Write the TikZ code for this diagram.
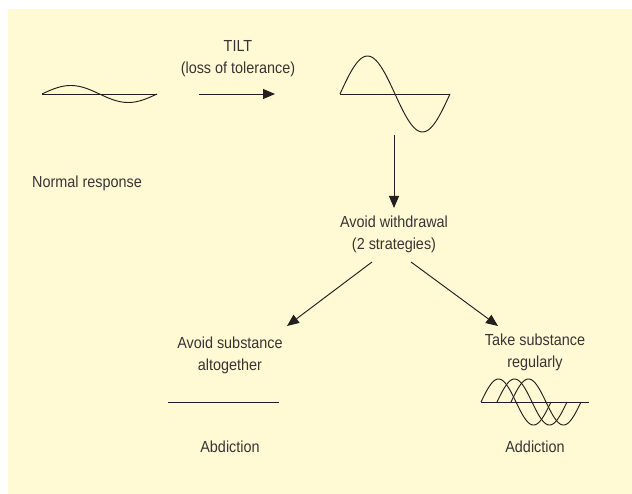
\documentclass[tikz,border=0pt]{standalone}
\usepackage{fontspec}
\setmainfont[FakeStretch=0.9]{Liberation Sans}
\usetikzlibrary{arrows.meta}
\definecolor{bgyellow}{RGB}{255,250,212}
\definecolor{ink}{RGB}{35,31,32}
\definecolor{txt}{RGB}{55,52,52}
\tikzset{
  wave/.style={draw=ink, line width=0.95pt},
  arr/.style={draw=ink, line width=0.95pt, -{Triangle[length=12pt,width=10pt]}},
  lbl/.style={text=txt, font=\fontsize{16}{22}\selectfont, align=center, inner sep=3pt},
}
\begin{document}
\begin{tikzpicture}[x=1pt,y=-1pt]
\useasboundingbox (0,0) rectangle (632,494);
\fill[bgyellow] (8,9) rectangle (632,494);
% small wave (normal response)
\draw[wave] (42,94) -- (157,94);
\draw[wave] plot[domain=0:360,samples=80] ({42+\x/360*115},{94-8.5*sin(\x)});
% big wave
\draw[wave] (340,94) -- (450,94);
\draw[wave] plot[domain=0:360,samples=80] ({340+\x/360*110},{94-38*sin(\x)});
% flat line
\draw[wave] (168,402) -- (279,402);
% three waves
\draw[wave] (481,402) -- (589,402);
\foreach \s in {481,497,511}{
  \draw[wave] plot[domain=0:360,samples=80] ({\s+\x/360*70},{402-23*sin(\x)});
}
% labels
\node[lbl] (tilt) at (238,59) {TILT\\(loss of tolerance)};
\node[lbl] (normal) at (87,183) {Normal response};
\node[lbl] (avoidw) at (394,234) {Avoid withdrawal\\(2 strategies)};
\node[lbl] (avoids) at (230,355) {Avoid substance\\altogether};
\node[lbl] (takes) at (535,352) {Take substance\\regularly};
\node[lbl] (abd) at (230,447) {Abdiction};
\node[lbl] (add) at (535,447) {Addiction};
% arrow endpoints
\coordinate (h1) at (199,94);
\coordinate (h2) at (275,94);
\coordinate (v1) at (394,135);
\coordinate (v2) at (394,208);
\coordinate (l1) at (372,262);
\coordinate (l2) at (287,326);
\coordinate (r1) at (411,262);
\coordinate (r2) at (498,326);
\draw[arr] (h1) -- (h2);
\draw[arr] (v1) -- (v2);
\draw[arr] (l1) -- (l2);
\draw[arr] (r1) -- (r2);
\end{tikzpicture}
\end{document}
